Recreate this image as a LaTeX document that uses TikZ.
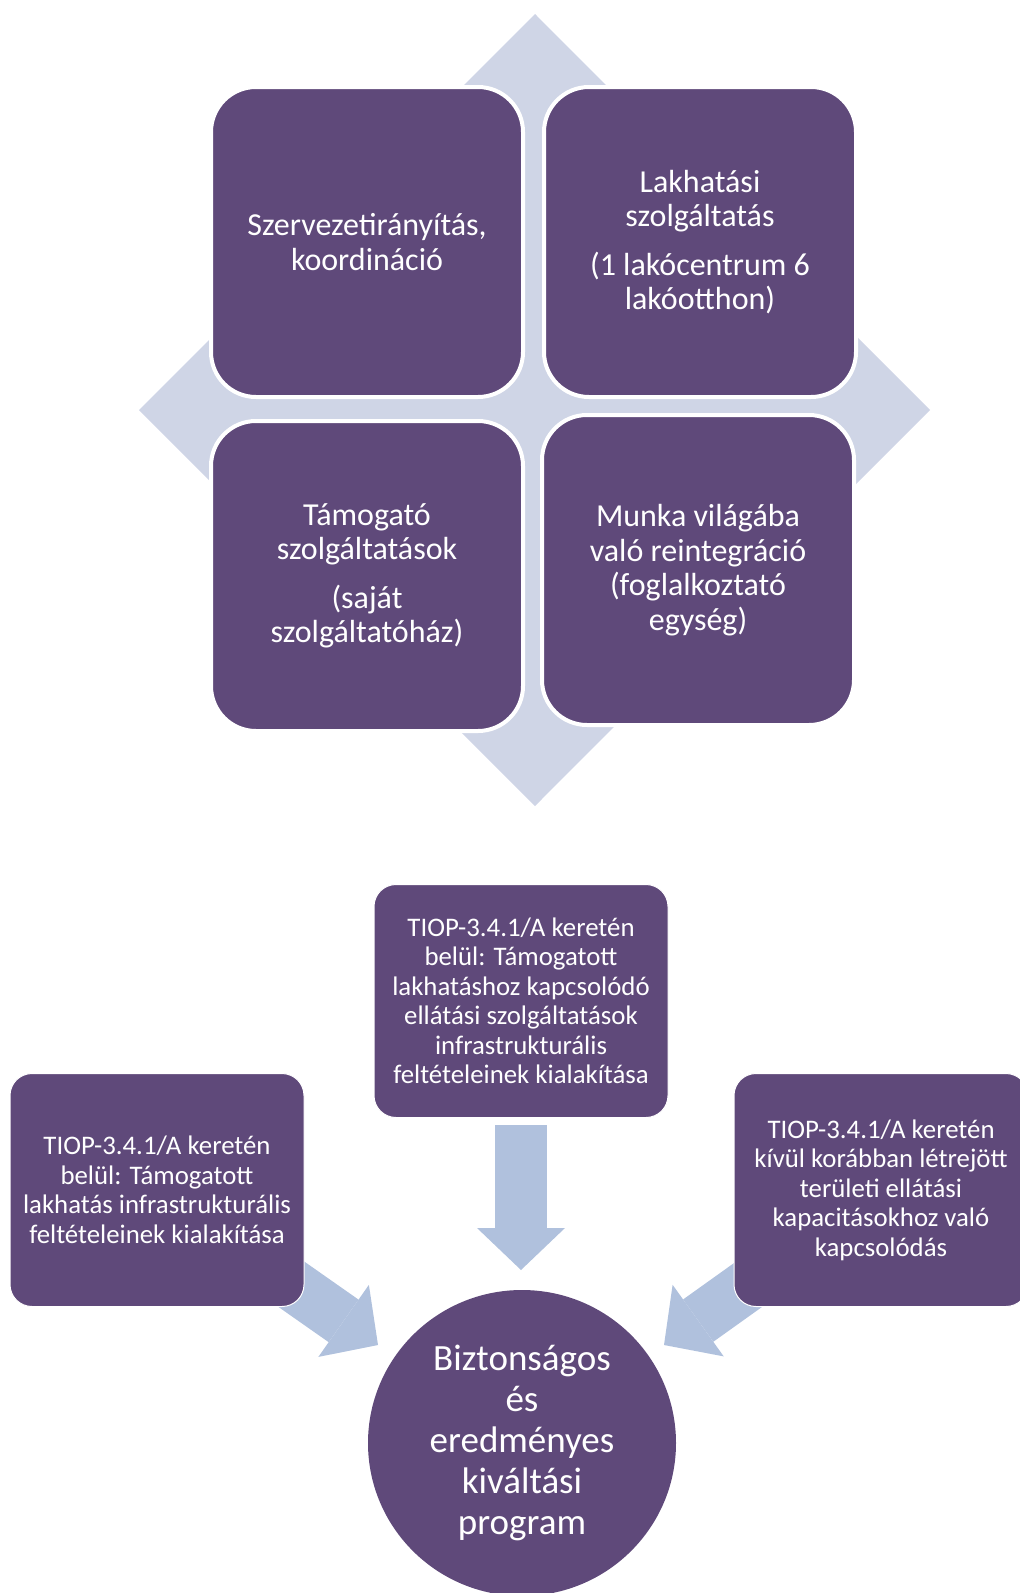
\documentclass[tikz,border=0pt]{standalone}
\usepackage{fontspec}
\setmainfont{Carlito}
\usetikzlibrary{positioning, shapes.geometric, arrows.meta, backgrounds}
\definecolor{boxpurple}{RGB}{95,73,122}
\definecolor{diamondgrey}{RGB}{207,213,230}
\definecolor{flowblue}{RGB}{176,193,221}

\begin{document}
\begin{tikzpicture}[x=1pt, y=-1pt, on grid,
  quad/.style={draw=white, line width=4pt, fill=boxpurple, rounded corners=45pt,
    minimum width=312pt, minimum height=310pt, inner sep=0pt, text=white,
    align=center, font=\fontsize{32}{34.5}\selectfont},
  tiop/.style={draw=white, line width=1pt, fill=boxpurple, rounded corners=22pt,
    minimum width=294pt, minimum height=233pt, inner sep=0pt, text=white,
    align=center, font=\fontsize{26.8}{29.5}\selectfont},
  goal/.style={ellipse, fill=boxpurple, minimum width=308pt, minimum height=306pt,
    inner sep=0pt, text=white, align=center, font=\fontsize{37}{41}\selectfont},
  flow/.style={draw=flowblue, line width=52pt,
    -{Triangle[width=88pt, length=42pt, line width=0pt]}}]
  \useasboundingbox (0,0) rectangle (1020,1593);
  \clip (0,0) rectangle (1020,1593);

  % diamond behind the four boxes
  \fill[diamondgrey] (535,14) -- (930,410) -- (535,806) -- (139,410) -- cycle;

  \node[quad] (org) at (367,242) {Szervezetirányítás,\\koordináció};
  \node[quad, right=333pt of org] (lak) {Lakhatási\\szolgáltatás\\[14pt](1 lakócentrum 6\\lakóotthon)};
  \node[quad, below=334pt of org] (tam) {Támogató\\szolgáltatások\\[14pt](saját\\szolgáltatóház)};
  \node[quad, below right=328pt and 331pt of org] (munka) {Munka világába\\való reintegráció\\(foglalkoztató\\egység)};

  % lower part
  \node[tiop] (infra) at (521,1001) {TIOP-3.4.1/A keretén\\belül: Támogatott\\lakhatáshoz kapcsolódó\\ellátási szolgáltatások\\infrastrukturális\\feltételeinek kialakítása};
  \node[tiop] (lakhatas) at (157,1190) {TIOP-3.4.1/A keretén\\belül: Támogatott\\lakhatás infrastrukturális\\feltételeinek kialakítása};
  \node[tiop] (kivul) at (881,1190) {TIOP-3.4.1/A keretén\\kívül korábban létrejött\\területi ellátási\\kapacitásokhoz való\\kapcsolódás};
  \node[goal] (goal) at (522,1443) {Biztonságos\\és\\eredményes\\kiváltási\\program};

  \coordinate (tipmid) at (521,1270);
  \coordinate (tipleft) at (378,1345);
  \coordinate (tipright) at (664,1345);
  \begin{scope}[on background layer]
    \draw[flow] ([yshift=-7pt]infra.south) -- (tipmid);
    \draw[flow] (lakhatas.center) -- (tipleft);
    \draw[flow] (kivul.center) -- (tipright);
  \end{scope}
\end{tikzpicture}
\end{document}
